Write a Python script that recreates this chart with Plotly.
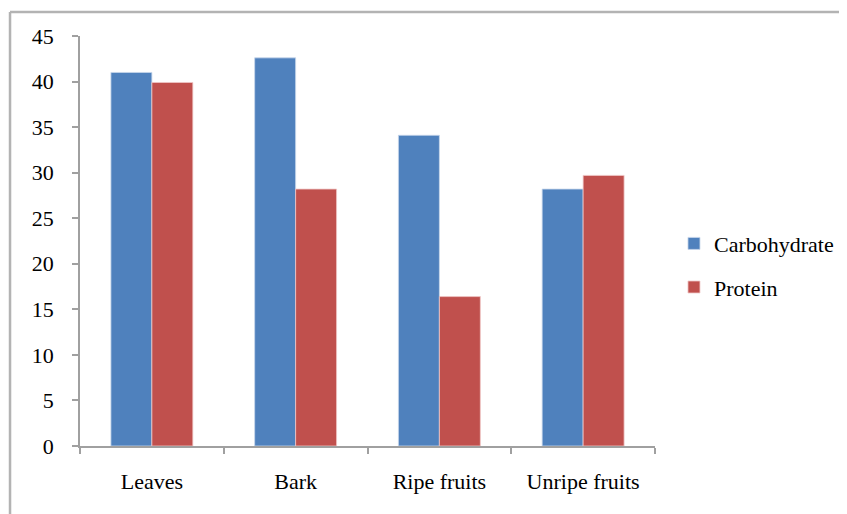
import plotly.graph_objects as go

categories = ["Leaves", "Bark", "Ripe fruits", "Unripe fruits"]
carbohydrate = [41.0, 42.6, 34.1, 28.2]
protein = [39.9, 28.2, 16.4, 29.7]
y_ticks = [0, 5, 10, 15, 20, 25, 30, 35, 40, 45]

FONT = "'Liberation Serif', 'Times New Roman', Times, 'DejaVu Serif', serif"
AX = "#A0A0A0"

fig = go.Figure()
fig.add_trace(go.Bar(name="Carbohydrate", x=categories, y=carbohydrate,
                     marker=dict(color="#4F81BD", line=dict(color="rgba(200,215,235,0.8)", width=1)),
                     legendgroup="a"))
fig.add_trace(go.Bar(name="Protein", x=categories, y=protein,
                     marker=dict(color="#C0504D", line=dict(color="rgba(240,200,200,0.8)", width=1)),
                     legendgroup="b"))

fig.update_layout(
    width=847, height=514,
    margin=dict(l=72, r=200, t=28, b=76),
    paper_bgcolor="white", plot_bgcolor="white",
    font=dict(family=FONT, size=22, color="black"),
    barmode="group", bargap=0.43, bargroupgap=0,
    showlegend=True,
    legend=dict(x=1.033, y=0.44, xanchor="left", yanchor="middle",
                traceorder="grouped", tracegroupgap=12,
                font=dict(family=FONT, size=22, color="black"),
                itemwidth=30, bgcolor="rgba(0,0,0,0)"),
    xaxis=dict(showline=True, linecolor=AX, linewidth=1.5, ticks="outside",
               tickson="boundaries", ticklen=6, tickcolor=AX, tickwidth=1.5,
               showgrid=False, ticklabelstandoff=15),
    yaxis=dict(range=[0, 45], tickvals=y_ticks, showline=True, linecolor=AX, linewidth=1.5,
               ticks="outside", ticklen=6, tickcolor=AX, tickwidth=1.5,
               showgrid=False, zeroline=False, ticklabelstandoff=14),
    shapes=[
        dict(type="line", xref="paper", yref="paper", x0=-0.1217, x1=-0.1217, y0=-0.3, y1=1.0585,
             line=dict(color="#B3B3B3", width=2.5)),
        dict(type="line", xref="paper", yref="paper", x0=-0.1217, x1=1.5, y0=1.0585, y1=1.0585,
             line=dict(color="#B3B3B3", width=2.5)),
    ],
)

fig.write_html("out.html")
